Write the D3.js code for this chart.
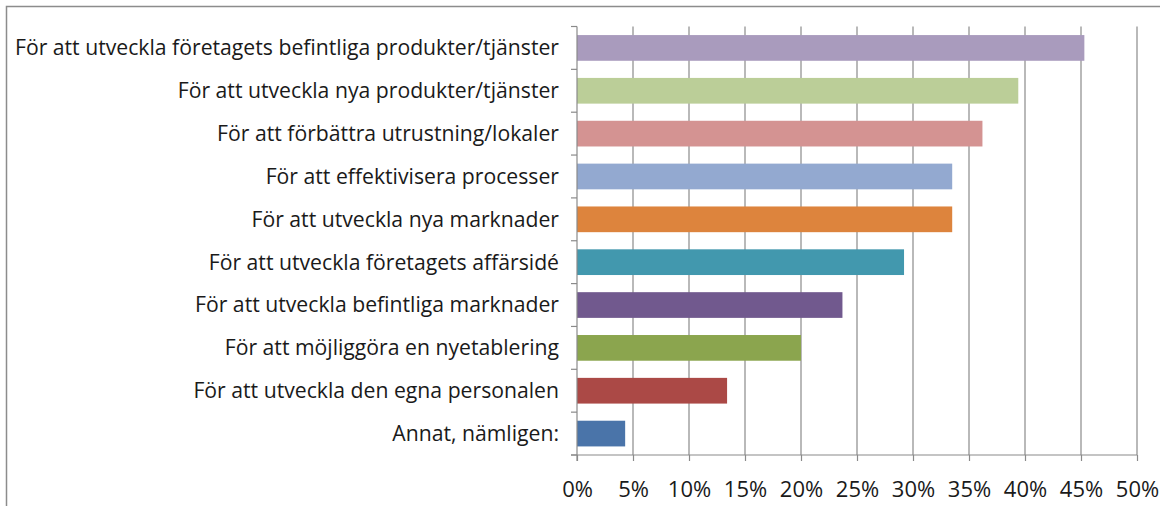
<!DOCTYPE html>
<html>
<head>
<meta charset="utf-8">
<script src="https://cdn.jsdelivr.net/npm/d3@7"></script>
<style>
  body { margin: 0; background: #fff; }
  svg text { font-family: "Open Sans", Lato, sans-serif; fill: #1a1a1a; }
</style>
</head>
<body>
<div id="chart"></div>
<script>
var categories = [
  "För att utveckla företagets befintliga produkter/tjänster",
  "För att utveckla nya produkter/tjänster",
  "För att förbättra utrustning/lokaler",
  "För att effektivisera processer",
  "För att utveckla nya marknader",
  "För att utveckla företagets affärsidé",
  "För att utveckla befintliga marknader",
  "För att möjliggöra en nyetablering",
  "För att utveckla den egna personalen",
  "Annat, nämligen:"
];
var values = [45.3, 39.4, 36.2, 33.5, 33.5, 29.2, 23.7, 20.0, 13.4, 4.3];
var colors = ["#A99BBD", "#BBCE98", "#D49392", "#93A9D0", "#DD843D",
              "#4298AE", "#71598E", "#8BA54E", "#AB4946", "#4A74A9"];
var xTicks = [0, 5, 10, 15, 20, 25, 30, 35, 40, 45, 50];

var W = 1160, H = 506;
var pLeft = 577, pRight = 1137, pTop = 26.5, pBottom = 455;

var svg = d3.select('#chart').append('svg')
    .attr('width', W)
    .attr('height', H);

// outer frame
svg.append('rect')
    .attr('x', 6.5).attr('y', 6.5)
    .attr('width', W).attr('height', H)
    .attr('fill', 'none')
    .attr('stroke', '#8c8c8c')
    .attr('stroke-width', 1.5);

var x = d3.scaleLinear().domain([0, 50]).range([pLeft, pRight]);
var y = d3.scaleBand().domain(categories).range([pTop, pBottom]).paddingInner(0.4).paddingOuter(0.2);

// gridlines
svg.append('g')
  .selectAll('line')
  .data(xTicks.slice(1))
  .enter().append('line')
    .attr('x1', function(d) { return x(d); })
    .attr('x2', function(d) { return x(d); })
    .attr('y1', pTop)
    .attr('y2', pBottom)
    .attr('stroke', '#8a8a8a')
    .attr('stroke-width', 1.2);

// bars
svg.append('g')
  .selectAll('rect')
  .data(values)
  .enter().append('rect')
    .attr('x', x(0))
    .attr('y', function(d, i) { return y(categories[i]); })
    .attr('width', function(d) { return x(d) - x(0); })
    .attr('height', y.bandwidth())
    .attr('fill', function(d, i) { return colors[i]; });

// x axis
var xAxis = d3.axisBottom(x)
    .tickValues(xTicks)
    .tickSize(6)
    .tickPadding(20)
    .tickFormat(function(d) { return d + '%'; });

var gx = svg.append('g')
    .attr('transform', 'translate(0,' + pBottom + ')')
    .call(xAxis);
gx.select('.domain').attr('stroke', '#8a8a8a').attr('stroke-width', 1.2)
    .attr('d', 'M' + (pLeft - 6) + ',0H' + pRight);
gx.selectAll('.tick line').attr('stroke', '#8a8a8a').attr('stroke-width', 1.2);
gx.selectAll('.tick text').attr('font-size', 22)
    .style('font-family', '"Open Sans", sans-serif').attr('fill', '#1a1a1a');

// y axis with boundary ticks
var step = y.step();
var bounds = d3.range(categories.length + 1).map(function(i) { return pTop + i * step; });

svg.append('line')
    .attr('x1', pLeft).attr('x2', pLeft)
    .attr('y1', pTop).attr('y2', pBottom + 6)
    .attr('stroke', '#8a8a8a').attr('stroke-width', 1.2);

svg.append('g')
  .selectAll('line')
  .data(bounds)
  .enter().append('line')
    .attr('x1', pLeft - 6).attr('x2', pLeft)
    .attr('y1', function(d) { return d; })
    .attr('y2', function(d) { return d; })
    .attr('stroke', '#8a8a8a').attr('stroke-width', 1.2);

// category labels
svg.append('g')
  .selectAll('text')
  .data(categories)
  .enter().append('text')
    .attr('x', pLeft - 18)
    .attr('y', function(d) { return y(d) + y.bandwidth() / 2; })
    .attr('dy', '0.35em')
    .attr('text-anchor', 'end')
    .attr('font-size', 21.2)
    .text(function(d) { return d; });
</script>
</body>
</html>
